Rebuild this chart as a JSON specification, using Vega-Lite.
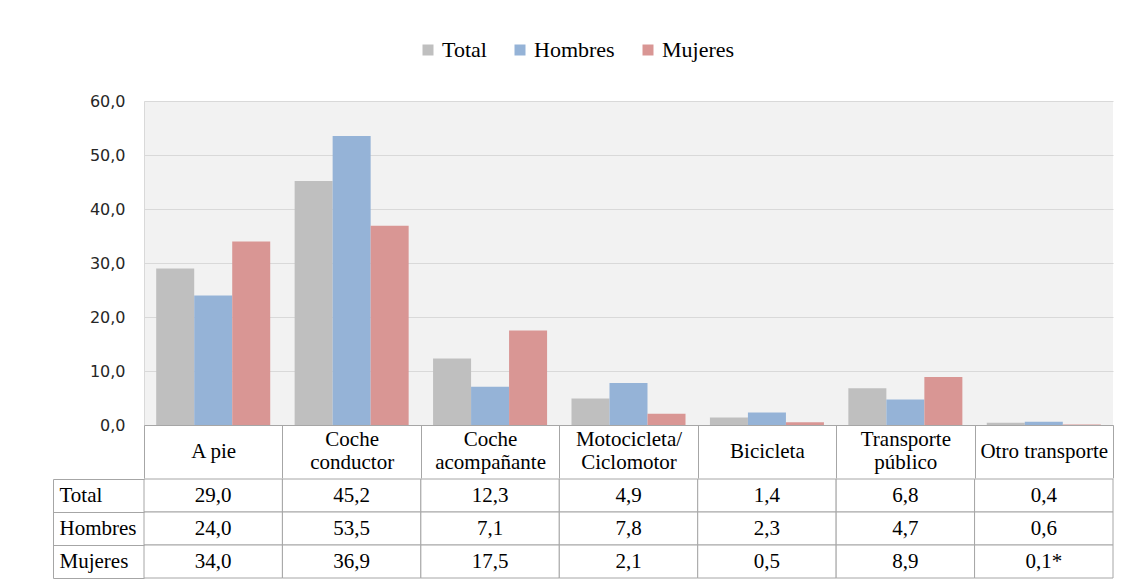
{
  "$schema": "https://vega.github.io/schema/vega-lite/v6.json",
  "padding": {"left": 52, "top": 39, "right": 15, "bottom": 5},
  "background": "white",
  "spacing": -12,
  "data": {"values": [
    {"categoria": "A pie", "serie": "Total", "valor": 29.0, "etiqueta": "29,0"},
    {"categoria": "A pie", "serie": "Hombres", "valor": 24.0, "etiqueta": "24,0"},
    {"categoria": "A pie", "serie": "Mujeres", "valor": 34.0, "etiqueta": "34,0"},
    {"categoria": "Coche conductor", "serie": "Total", "valor": 45.2, "etiqueta": "45,2"},
    {"categoria": "Coche conductor", "serie": "Hombres", "valor": 53.5, "etiqueta": "53,5"},
    {"categoria": "Coche conductor", "serie": "Mujeres", "valor": 36.9, "etiqueta": "36,9"},
    {"categoria": "Coche acompañante", "serie": "Total", "valor": 12.3, "etiqueta": "12,3"},
    {"categoria": "Coche acompañante", "serie": "Hombres", "valor": 7.1, "etiqueta": "7,1"},
    {"categoria": "Coche acompañante", "serie": "Mujeres", "valor": 17.5, "etiqueta": "17,5"},
    {"categoria": "Motocicleta/Ciclomotor", "serie": "Total", "valor": 4.9, "etiqueta": "4,9"},
    {"categoria": "Motocicleta/Ciclomotor", "serie": "Hombres", "valor": 7.8, "etiqueta": "7,8"},
    {"categoria": "Motocicleta/Ciclomotor", "serie": "Mujeres", "valor": 2.1, "etiqueta": "2,1"},
    {"categoria": "Bicicleta", "serie": "Total", "valor": 1.4, "etiqueta": "1,4"},
    {"categoria": "Bicicleta", "serie": "Hombres", "valor": 2.3, "etiqueta": "2,3"},
    {"categoria": "Bicicleta", "serie": "Mujeres", "valor": 0.5, "etiqueta": "0,5"},
    {"categoria": "Transporte público", "serie": "Total", "valor": 6.8, "etiqueta": "6,8"},
    {"categoria": "Transporte público", "serie": "Hombres", "valor": 4.7, "etiqueta": "4,7"},
    {"categoria": "Transporte público", "serie": "Mujeres", "valor": 8.9, "etiqueta": "8,9"},
    {"categoria": "Otro transporte", "serie": "Total", "valor": 0.4, "etiqueta": "0,4"},
    {"categoria": "Otro transporte", "serie": "Hombres", "valor": 0.6, "etiqueta": "0,6"},
    {"categoria": "Otro transporte", "serie": "Mujeres", "valor": 0.1, "etiqueta": "0,1*"}
  ]},
  "vconcat": [
    {
      "width": 969,
      "height": 324,
      "view": {"fill": "#f2f2f2", "stroke": null},
      "mark": {"type": "bar"},
      "encoding": {
        "x": {
          "field": "categoria", "type": "nominal",
          "scale": {"domain": ["A pie", "Coche conductor", "Coche acompañante", "Motocicleta/Ciclomotor", "Bicicleta", "Transporte público", "Otro transporte"], "paddingInner": 0, "paddingOuter": 0},
          "axis": {
            "title": null, "orient": "bottom", "domain": true, "domainColor": "#a6a6a6",
            "ticks": true, "tickSize": 53, "tickColor": "#a6a6a6", "tickBand": "extent",
            "labelAngle": 0,
            "labelExpr": "datum.label == 'Coche conductor' ? ['Coche','conductor'] : datum.label == 'Coche acompañante' ? ['Coche','acompañante'] : datum.label == 'Motocicleta/Ciclomotor' ? ['Motocicleta/','Ciclomotor'] : datum.label == 'Transporte público' ? ['Transporte','público'] : datum.label",
            "labelFont": "Liberation Serif", "labelFontSize": 21, "labelColor": "black",
            "labelBaseline": "middle",
            "labelPadding": {"condition": {"test": "datum.value == 'A pie' || datum.value == 'Bicicleta' || datum.value == 'Otro transporte'", "value": -27}, "value": -39},
            "labelLineHeight": 23,
            "labelOverlap": false, "labelLimit": 200, "minExtent": 53, "maxExtent": 53, "zindex": 1
          }
        },
        "xOffset": {"field": "serie", "type": "nominal", "scale": {"domain": ["Total", "Hombres", "Mujeres"], "paddingInner": 0, "paddingOuter": 0.321}},
        "y": {
          "field": "valor", "type": "quantitative",
          "scale": {"domain": [0, 60], "nice": false},
          "axis": {
            "title": null, "values": [0, 10, 20, 30, 40, 50, 60],
            "labelExpr": "replace(format(datum.value, '.1f'), '.', ',')",
            "grid": true, "gridColor": "#d9d9d9", "domain": true, "domainColor": "#d9d9d9",
            "ticks": false, "labelPadding": 19, "labelFont": "DejaVu Sans", "labelFontSize": 16,
            "labelColor": "#262626", "minExtent": 91, "maxExtent": 91
          }
        },
        "color": {
          "field": "serie", "type": "nominal",
          "scale": {"domain": ["Total", "Hombres", "Mujeres"], "range": ["#bfbfbf", "#95b3d7", "#d99694"]},
          "legend": {
            "orient": "none", "legendX": 273, "legendY": -62, "direction": "horizontal", "title": null,
            "symbolType": "square", "symbolSize": 121, "symbolStrokeWidth": 0,
            "labelFont": "Liberation Serif", "labelFontSize": 22, "labelColor": "black",
            "labelOffset": 3, "columnPadding": 22, "padding": 0
          }
        }
      }
    },
    {
      "width": 969,
      "height": 99,
      "view": {"stroke": null},
      "encoding": {
        "x": {
          "field": "categoria", "type": "nominal",
          "scale": {"domain": ["A pie", "Coche conductor", "Coche acompañante", "Motocicleta/Ciclomotor", "Bicicleta", "Transporte público", "Otro transporte"], "paddingInner": 0, "paddingOuter": 0},
          "axis": null
        },
        "y": {
          "field": "serie", "type": "nominal",
          "scale": {"domain": ["Total", "Hombres", "Mujeres"], "paddingInner": 0, "paddingOuter": 0},
          "axis": {
            "orient": "left", "offset": 91, "title": null, "domain": true, "domainColor": "#a6a6a6",
            "ticks": true, "tickSize": -91, "tickColor": "#a6a6a6", "tickBand": "extent",
            "labelAlign": "left", "labelPadding": 85, "labelFont": "Liberation Serif", "labelFontSize": 21,
            "labelColor": "black", "labelBaseline": "middle", "grid": false
          }
        }
      },
      "layer": [
        {"mark": {"type": "rect", "fill": "white", "stroke": "#a6a6a6", "strokeWidth": 1}},
        {"mark": {"type": "text", "font": "Liberation Serif", "fontSize": 21, "color": "black"}, "encoding": {"text": {"field": "etiqueta"}}}
      ]
    }
  ],
  "resolve": {"scale": {"x": "independent", "y": "independent", "color": "independent"}}
}
